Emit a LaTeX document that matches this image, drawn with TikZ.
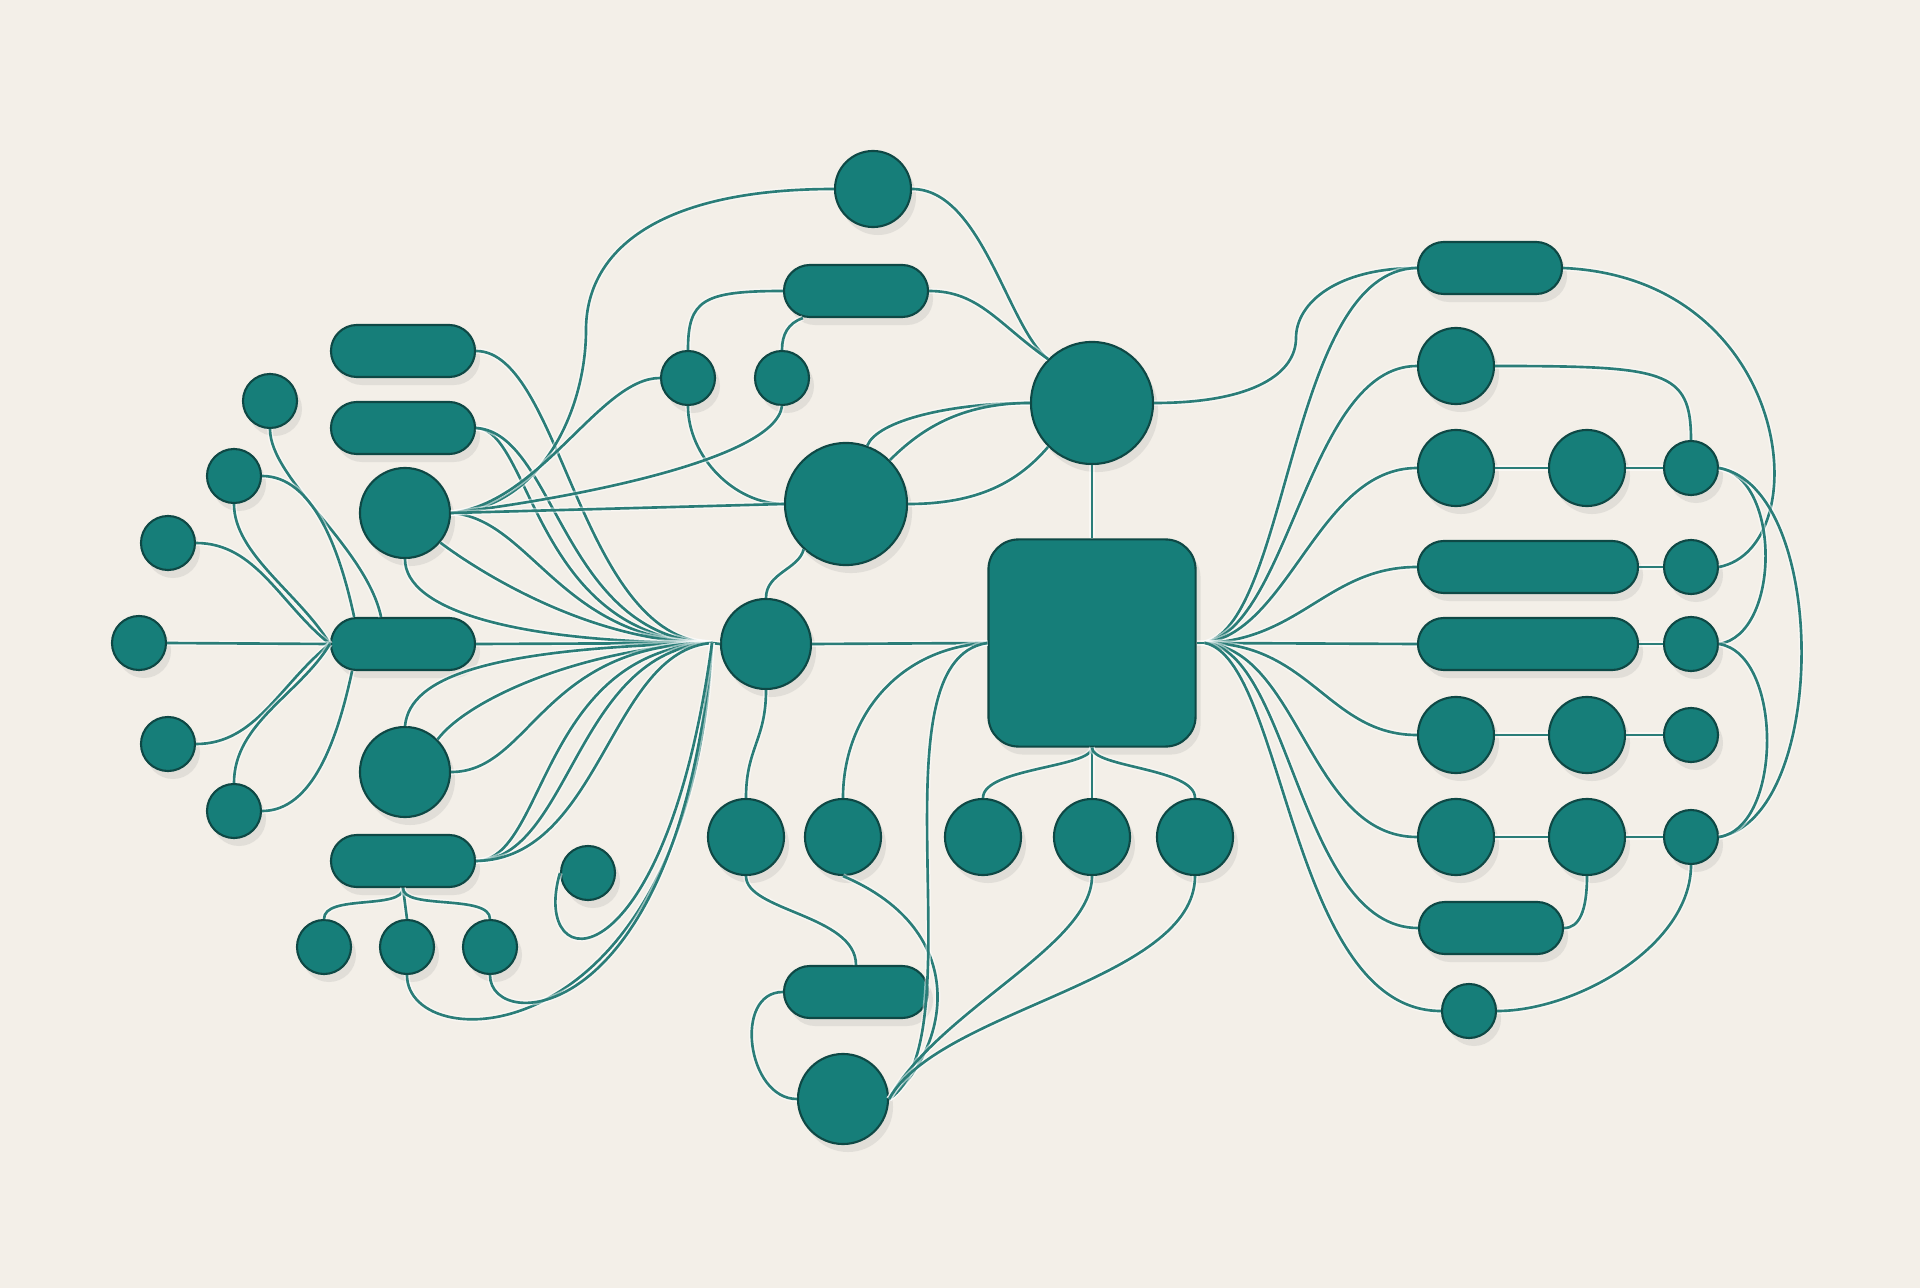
\documentclass[tikz,border=0pt]{standalone}
\usetikzlibrary{shadows}

\definecolor{paper}{HTML}{F3EFE8}
\definecolor{tealfill}{HTML}{167E79}
\definecolor{tealedge}{HTML}{0E4845}
\definecolor{wirecol}{HTML}{2A7D78}

\tikzset{
  blob/.style={draw=tealedge, line width=0.6pt, fill=tealfill, inner sep=0pt,
    drop shadow={shadow xshift=0.5mm, shadow yshift=-0.8mm, opacity=0.15}},
  smalldot/.style={blob, circle, minimum size=5.4mm},
  middot/.style={blob, circle, minimum size=7.6mm},
  bigdot/.style={blob, circle, minimum size=9mm},
  hugedot/.style={blob, circle, minimum size=12.2mm},
  pill/.style={blob, rectangle, rounded corners=2.6mm, minimum width=14.4mm, minimum height=5.2mm},
  longpill/.style={pill, minimum width=22mm},
  bigbox/.style={blob, rectangle, rounded corners=3mm, minimum size=20.7mm},
  wire/.style={draw=wirecol, line width=0.75pt,
    preaction={draw=white, line width=1.6pt, opacity=0.5}},
}

\begin{document}
\begin{tikzpicture}[x=0.01cm,y=-0.01cm]

\fill[paper] (0,0) rectangle (1920,1288) ;

% left cluster
\node[smalldot] (la) at (270,401) {} ;
\node[smalldot] (lb) at (234,476) {} ;
\node[smalldot] (lc) at (168,543) {} ;
\node[smalldot] (ld) at (139,643) {} ;
\node[smalldot] (le) at (168,744) {} ;
\node[smalldot] (lf) at (234,811) {} ;
\node[pill] (p1) at (403,351) {} ;
\node[pill] (p2) at (403,428) {} ;
\node[bigdot] (b3) at (405,513) {} ;
\node[pill] (p4) at (403,644) {} ;
\node[bigdot] (b5) at (405,772) {} ;
\node[pill] (p6) at (403,861) {} ;
\node[smalldot] (q1) at (324,947) {} ;
\node[smalldot] (q2) at (407,947) {} ;
\node[smalldot] (q3) at (490,947) {} ;
\node[smalldot] (lp) at (588,873) {} ;

% centre
\node[middot] (top) at (873,189) {} ;
\node[pill] (pc) at (856,291) {} ;
\node[smalldot] (sa) at (688,378) {} ;
\node[smalldot] (sb) at (782,378) {} ;
\node[hugedot] (h1) at (846,504) {} ;
\node[hugedot] (h2) at (1092,403) {} ;
\node[bigdot] (hub) at (766,644) {} ;
\node[bigbox] (sq) at (1092,643) {} ;
\foreach \x [count=\i] in {746,843,983,1092,1195}
  \node[middot] (r\i) at (\x,837) {} ;
\node[pill] (pb) at (856,992) {} ;
\node[bigdot] (bot) at (843,1099) {} ;

% right cluster
\node[pill] (pr1) at (1490,268) {} ;
\node[middot] (rtop) at (1456,366) {} ;
\node[middot] (ra1) at (1456,468) {} ;
\node[middot] (ra2) at (1587,468) {} ;
\node[smalldot] (ra3) at (1691,468) {} ;
\node[longpill] (rl1) at (1528,567) {} ;
\node[smalldot] (rs1) at (1691,567) {} ;
\node[longpill] (rl2) at (1528,644) {} ;
\node[smalldot] (rs2) at (1691,644) {} ;
\node[middot] (rb1) at (1456,735) {} ;
\node[middot] (rb2) at (1587,735) {} ;
\node[smalldot] (rb3) at (1691,735) {} ;
\node[middot] (rc1) at (1456,837) {} ;
\node[middot] (rc2) at (1587,837) {} ;
\node[smalldot] (rc3) at (1691,837) {} ;
\node[pill] (pr2) at (1491,928) {} ;
\node[smalldot] (rbot) at (1469,1011) {} ;

\coordinate (fanL) at (712,643) ;
\coordinate (fanR) at (1205,643) ;
\coordinate (bendT) at (586,330) ;
\coordinate (bendR) at (1296,338) ;

% outer left dots into p4
\draw[wire] (la.south) .. controls +(0,50) and +(-15,-70) .. (p4.129) ;
\draw[wire] (lb.east) .. controls +(50,0) and +(-15,-70) .. (p4.151) ;
\draw[wire] (lb.south) .. controls +(0,50) and +(-30,-50) .. (p4.west) ;
\draw[wire] (lc.east) .. controls +(60,0) and +(-50,-40) .. (p4.west) ;
\draw[wire] (ld.east) -- (p4.west) ;
\draw[wire] (le.east) .. controls +(60,0) and +(-50,40) .. (p4.west) ;
\draw[wire] (lf.north) .. controls +(0,-60) and +(-30,50) .. (p4.west) ;
\draw[wire] (lf.east) .. controls +(50,0) and +(-15,70) .. (p4.208) ;

% left fan into hub
\draw[wire] (fanL) -- (hub.west) ;
\draw[wire] (p1.east) .. controls +(85,0) and +(-132,-3) .. (fanL) ;
\draw[wire] (p2.east) .. controls +(55,0) and +(-177,-3) .. (fanL) ;
\draw[wire] (p2.east) .. controls +(80,5) and +(-150,-5) .. (fanL) ;
\draw[wire] (b3.east) .. controls +(80,5) and +(-150,0) .. (fanL) ;
\draw[wire] (b3.-40) .. controls +(40,30) and +(-120,0) .. (fanL) ;
\draw[wire] (b3.south) .. controls +(0,50) and +(-200,0) .. (fanL) ;
\draw[wire] (p4.east) -- (fanL) ;
\draw[wire] (b5.north) .. controls +(5,-50) and +(-220,5) .. (fanL) ;
\draw[wire] (b5.45) .. controls +(30,-40) and +(-130,5) .. (fanL) ;
\draw[wire] (b5.east) .. controls +(80,0) and +(-170,0) .. (fanL) ;
\draw[wire] (p6.east) .. controls +(70,0) and +(-172,7) .. (fanL) ;
\draw[wire] (p6.east) .. controls +(95,-2) and +(-137,7) .. (fanL) ;
\draw[wire] (p6.east) .. controls +(125,-2) and +(-102,7) .. (fanL) ;
\draw[wire] (q2.south) .. controls +(0,85) and +(-22,415) .. (fanL) ;
\draw[wire] (q3.south) .. controls +(0,60) and +(-32,385) .. (fanL) ;
\draw[wire] (lp.west) .. controls +(-31,107) and +(-47,347) .. (fanL) ;
\draw[wire] (p6.south) .. controls +(0,22) and +(0,-25) .. (q1.north) ;
\draw[wire] (p6.south) -- (q2.north) ;
\draw[wire] (p6.south) .. controls +(0,22) and +(0,-25) .. (q3.north) ;

% upper centre
\draw[wire] (top.west) .. controls +(-175,0) and +(0,-80) .. (bendT)
  .. controls +(0,80) and +(90,-5) .. (b3.east) ;
\draw[wire] (top.east) .. controls +(70,0) and +(-40,-30) .. (h2.135) ;
\draw[wire] (pc.east) .. controls +(50,0) and +(-50,-35) .. (h2.135) ;
\draw[wire] (pc.west) .. controls +(-80,0) and +(0,-50) .. (sa.north) ;
\draw[wire] (pc.207) .. controls +(-15,5) and +(0,-15) .. (sb.north) ;
\draw[wire] (b3.east) .. controls +(90,-10) and +(-60,0) .. (sa.west) ;
\draw[wire] (sa.south) .. controls +(0,50) and +(-50,0) .. (h1.west) ;
\draw[wire] (sb.south) .. controls +(-7,55) and +(110,-13) .. (b3.east) ;
\draw[wire] (b3.east) -- (h1.west) ;
\draw[wire] (h1.70) .. controls +(10,-25) and +(-80,0) .. (h2.west) ;
\draw[wire] (h1.45) .. controls +(30,-30) and +(-70,0) .. (h2.west) ;
\draw[wire] (h1.east) .. controls +(70,0) and +(-30,35) .. (h2.225) ;
\draw[wire] (h2.south) -- (sq.north) ;
\draw[wire] (h2.east) .. controls +(100,0) and +(0,35) .. (bendR)
  .. controls +(0,-35) and +(-80,0) .. (pr1.west) ;

% lower centre
\draw[wire] (hub.east) -- (sq.west) ;
\draw[wire] (hub.north) .. controls +(0,-25) and +(-5,20) .. (h1.227) ;
\draw[wire] (hub.south) .. controls +(0,50) and +(0,-50) .. (r1.north) ;
\draw[wire] (r1.south) .. controls +(0,35) and +(0,-50) .. (pb.north) ;
\draw[wire] (r2.south) .. controls +(130,55) and +(60,-50) .. (bot.east) ;
\draw[wire] (sq.west) .. controls +(-90,5) and +(0,-80) .. (r2.north) ;
\draw[wire] (sq.west) .. controls +(-119,17) and +(90,-60) .. (bot.east) ;
\draw[wire] (sq.south) .. controls +(0,20) and +(0,-30) .. (r3.north) ;
\draw[wire] (sq.south) -- (r4.north) ;
\draw[wire] (sq.south) .. controls +(0,20) and +(0,-30) .. (r5.north) ;
\draw[wire] (r4.south) .. controls +(0,70) and +(50,-90) .. (bot.east) ;
\draw[wire] (r5.south) .. controls +(0,105) and +(50,-90) .. (bot.east) ;
\draw[wire] (pb.west) .. controls +(-50,0) and +(-50,0) .. (bot.west) ;

% right fan
\draw[wire] (sq.east) -- (fanR) ;
\draw[wire] (fanR) .. controls +(85,-23) and +(-128,2) .. (pr1.west) ;
\draw[wire] (fanR) .. controls +(85,-18) and +(-108,0) .. (rtop.west) ;
\draw[wire] (fanR) .. controls +(85,-13) and +(-98,0) .. (ra1.west) ;
\draw[wire] (fanR) .. controls +(95,-3) and +(-88,0) .. (rl1.west) ;
\draw[wire] (fanR) -- (rl2.west) ;
\draw[wire] (fanR) .. controls +(105,0) and +(-88,0) .. (rb1.west) ;
\draw[wire] (fanR) .. controls +(95,7) and +(-108,0) .. (rc1.west) ;
\draw[wire] (fanR) .. controls +(85,7) and +(-118,0) .. (pr2.west) ;
\draw[wire] (fanR) .. controls +(80,17) and +(-151,0) .. (rbot.west) ;

% right rows
\draw[wire] (ra1.east) -- (ra2.west) ;
\draw[wire] (ra2.east) -- (ra3.west) ;
\draw[wire] (rl1.east) -- (rs1.west) ;
\draw[wire] (rl2.east) -- (rs2.west) ;
\draw[wire] (rb1.east) -- (rb2.west) ;
\draw[wire] (rb2.east) -- (rb3.west) ;
\draw[wire] (rc1.east) -- (rc2.west) ;
\draw[wire] (rc2.east) -- (rc3.west) ;
\draw[wire] (rtop.east) .. controls +(170,0) and +(0,-70) .. (ra3.north) ;
\draw[wire] (pr1.east) .. controls +(230,10) and +(100,-20) .. (rs1.east) ;
\draw[wire] (ra3.east) .. controls +(62,10) and +(62,-10) .. (rs2.east) ;
\draw[wire] (ra3.east) .. controls +(110,20) and +(110,-20) .. (rc3.east) ;
\draw[wire] (rs2.east) .. controls +(64,10) and +(64,-10) .. (rc3.east) ;
\draw[wire] (rc2.south) .. controls +(0,35) and +(15,0) .. (pr2.east) ;
\draw[wire] (rc3.south) .. controls +(0,80) and +(80,0) .. (rbot.east) ;

\end{tikzpicture}
\end{document}
